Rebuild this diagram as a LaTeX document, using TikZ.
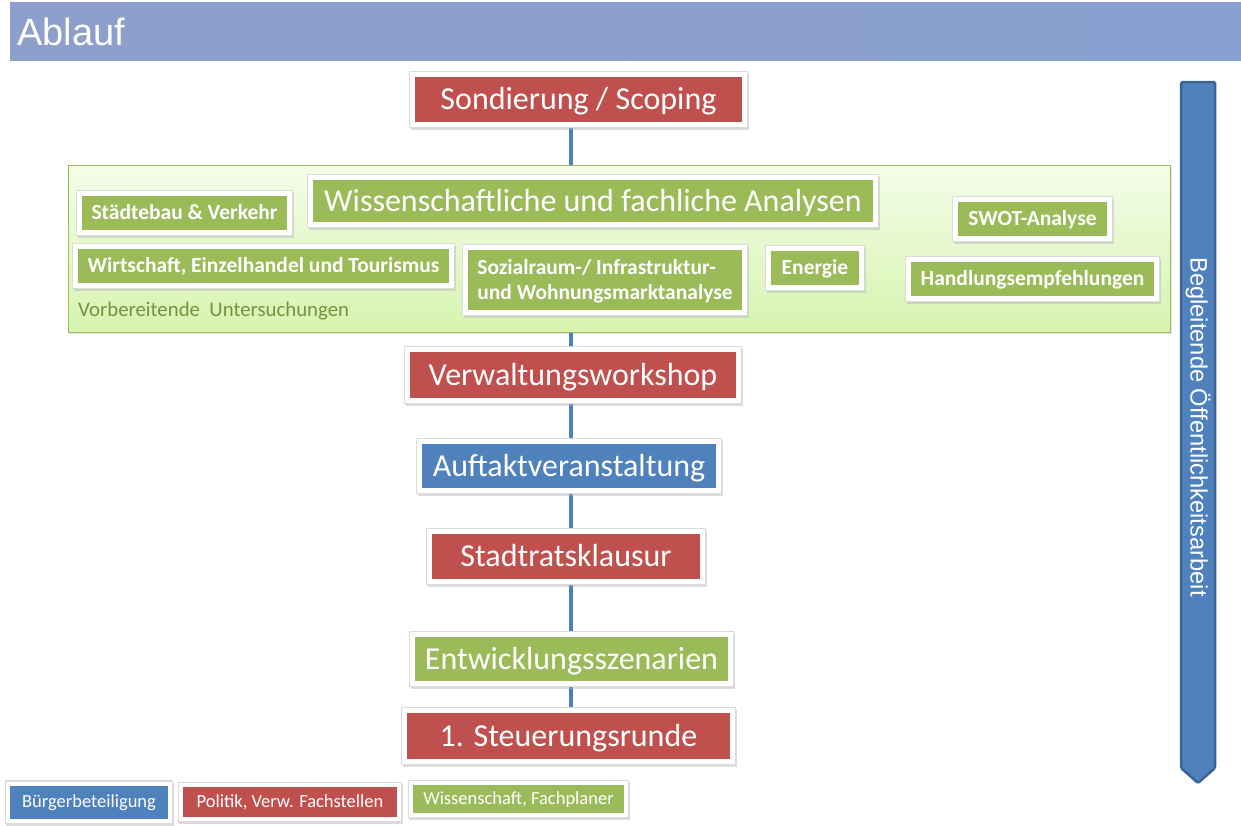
\documentclass[tikz,border=0pt]{standalone}
\usepackage{fontspec}
\setmainfont{Carlito}
\newfontfamily\arialfont{Liberation Sans}
\usetikzlibrary{shadows,calc,backgrounds}
\definecolor{cred}{HTML}{C0504D}
\definecolor{cgreen}{HTML}{9BBB59}
\definecolor{cblue}{HTML}{4F81BD}
\definecolor{cblueedge}{HTML}{3B6496}
\definecolor{cline}{HTML}{4A7EC8}
\definecolor{hdrleft}{HTML}{8E9FCC}
\definecolor{hdrright}{HTML}{89A0D0}
\definecolor{areatop}{HTML}{F4FCE8}
\definecolor{areabot}{HTML}{D6F4B0}
\definecolor{areaedge}{HTML}{9BBB59}
\definecolor{labgreen}{HTML}{76923C}
\tikzset{
  box/.style={draw=white, line width=5pt, text=white, inner sep=0pt,
    font=\fontsize{32}{36}\selectfont, text height=20.6pt, text depth=0pt,
    preaction={draw=black!30, draw opacity=0.45, line width=6pt, transform canvas={xshift=1pt, yshift=-2pt}},
    preaction={draw=black!14, line width=6.4pt}},
  redbox/.style={box, fill=cred},
  greenbox/.style={box, fill=cgreen},
  bluebox/.style={box, fill=cblue},
  smallbox/.style={box, fill=cgreen, font=\bfseries\fontsize{21.5}{25}\selectfont, text height=13.8pt},
  legbox/.style={box, line width=4pt, font=\fontsize{18.5}{20}\selectfont, text height=11.9pt},
  conn/.style={draw=cline, line width=4pt},
}
\begin{document}
\begin{tikzpicture}[x=1pt,y=-1pt]
\useasboundingbox (0,0) rectangle (1241,825);
% header
\node[anchor=north west, minimum width=1231pt, minimum height=58pt, inner sep=0pt,
  left color=hdrleft, right color=hdrright, draw=none] (hdr) at (10,2) {};
\node[anchor=west, text=white, font=\arialfont\fontsize{38}{40}\selectfont, inner sep=0pt] (title) at (17,32) {Ablauf};
% spine coordinate
\coordinate (spine) at (570.5,0);
% green area
\node[minimum width=1102pt, minimum height=167pt, inner sep=0pt, draw=areaedge, line width=1pt,
  top color=areatop, bottom color=areabot,
  drop shadow={shadow xshift=1.5pt, shadow yshift=-2pt, opacity=0.2}] (region) at (619,248.5) {};
% main flow
\node[redbox, minimum width=332pt, minimum height=50pt] (sond) at (578.5,99.5) {Sondierung / Scoping};
\node[greenbox, minimum width=565pt, minimum height=47pt] (wiss) at (593,201) {Wissenschaftliche und fachliche Analysen};
\node[smallbox, minimum width=210pt, minimum height=39pt] (staedte) at (184.5,213) {Städtebau \& Verkehr};
\node[smallbox, minimum width=376pt, minimum height=39pt] (wirt) at (263.5,266) {Wirtschaft, Einzelhandel und Tourismus};
\node[smallbox, minimum width=279pt, minimum height=65pt, align=left, text height=38.8pt, text depth=0pt] (sozial) at (605,280) {Sozialraum-/ Infrastruktur-\\und Wohnungsmarktanalyse};
\node[smallbox, minimum width=93pt, minimum height=39pt] (energie) at (815,268) {Energie};
\node[smallbox, minimum width=154pt, minimum height=39pt] (swot) at (1032.5,219) {SWOT-Analyse};
\node[smallbox, minimum width=248pt, minimum height=39pt] (handl) at (1032.5,279) {Handlungsempfehlungen};
\node[anchor=west, text=labgreen, font=\fontsize{20.8}{22}\selectfont, inner sep=0pt] (vorb) at (78,311) {Vorbereitende\ \ Untersuchungen};
\node[redbox, minimum width=331pt, minimum height=51pt] (verw) at (573,375) {Verwaltungsworkshop};
\node[bluebox, minimum width=299pt, minimum height=49pt] (auft) at (569,466) {Auftaktveranstaltung};
\node[redbox, minimum width=273pt, minimum height=50pt] (stadt) at (566,556.5) {Stadtratsklausur};
\node[greenbox, minimum width=318pt, minimum height=49pt] (entw) at (571.5,659) {Entwicklungsszenarien};
\node[redbox, minimum width=328pt, minimum height=51pt] (steu) at (568.5,736) {1. Steuerungsrunde};
% connectors (behind)
\begin{pgfonlayer}{background}
\draw[conn] (sond.south -| spine) -- (region.north -| spine);
\draw[conn] (region.south -| spine) -- (verw.north -| spine);
\draw[conn] (verw.south -| spine) -- (auft.north -| spine);
\draw[conn] (auft.south -| spine) -- (stadt.north -| spine);
\draw[conn] (stadt.south -| spine) -- (entw.north -| spine);
\draw[conn] (entw.south -| spine) -- (steu.north -| spine);
\end{pgfonlayer}
% legend
\node[legbox, fill=cblue, minimum width=162pt, minimum height=37pt] (lb) at (89,802) {Bürgerbeteiligung};
\node[legbox, fill=cred, minimum width=218pt, minimum height=34pt] (lr) at (290,802) {Politik, Verw. Fachstellen};
\node[legbox, fill=cgreen, minimum width=215pt, minimum height=32pt] (lg) at (518.5,799) {Wissenschaft, Fachplaner};
% right arrow
\path[fill=cblue, draw=cblueedge, line width=2.5pt, rounded corners=1.5pt]
  (1181,82) -- (1215,82) -- (1215,768) -- (1198,783) -- (1181,768) -- cycle;
\node[rotate=-90, text=white, font=\arialfont\fontsize{23.7}{25}\selectfont, inner sep=0pt] (oeff) at (1198,427) {Begleitende Öffentlichkeitsarbeit};
\end{tikzpicture}
\end{document}
